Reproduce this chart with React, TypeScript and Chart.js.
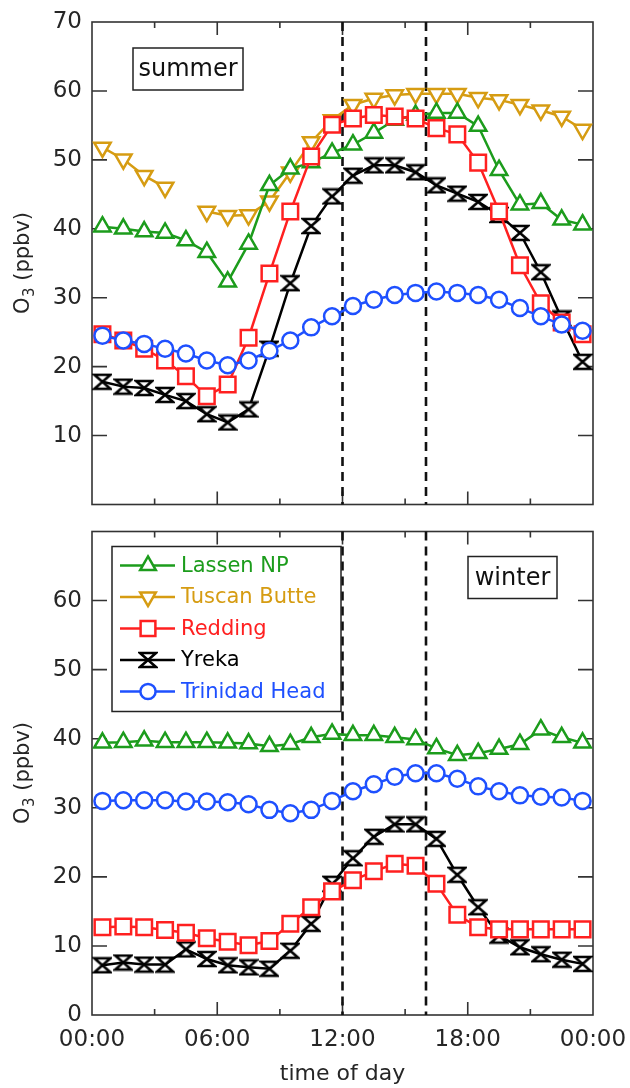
import React, { useEffect, useRef } from 'react';
import { Chart, registerables } from 'chart.js';

Chart.register(...registerables);

// ---------- DATA ----------
const hours = [0.5, 1.5, 2.5, 3.5, 4.5, 5.5, 6.5, 7.5, 8.5, 9.5, 10.5, 11.5, 12.5, 13.5, 14.5, 15.5, 16.5, 17.5, 18.5, 19.5, 20.5, 21.5, 22.5, 23.5];

const seriesNames = ['Lassen NP', 'Tuscan Butte', 'Redding', 'Yreka', 'Trinidad Head'];
const seriesColors = ['#1c9c1c', '#d69c12', '#ff2020', '#000000', '#1e50ff'];

// summer
const lassenSummer = [40.3, 40.0, 39.6, 39.4, 38.3, 36.6, 32.3, 37.8, 46.3, 48.7, 49.6, 51.0, 52.2, 53.9, 55.8, 56.5, 56.8, 56.8, 54.9, 48.5, 43.5, 43.7, 41.3, 40.6];
const tuscanSummer = [51.8, 50.1, 47.7, 46.0, null, 42.5, 41.9, 42.0, 44.0, 48.2, 52.6, 55.8, 58.0, 58.9, 59.4, 59.6, 59.6, 59.6, 59.0, 58.7, 58.0, 57.2, 56.3, 54.4];
const reddingSummer = [24.7, 23.8, 22.6, 20.9, 18.6, 15.7, 17.4, 24.2, 33.5, 42.5, 50.5, 55.1, 56.0, 56.5, 56.3, 56.0, 54.6, 53.7, 49.6, 42.5, 34.7, 29.2, 26.4, 24.7];
const yrekaSummer = [17.8, 17.1, 16.9, 15.9, 15.0, 13.1, 11.9, 13.8, 22.6, 32.1, 40.4, 44.7, 47.7, 49.2, 49.2, 48.2, 46.3, 45.1, 43.9, 42.0, 39.4, 33.7, 27.0, 20.7];
const trinidadSummer = [24.5, 23.8, 23.3, 22.6, 21.9, 20.9, 20.2, 20.9, 22.3, 23.8, 25.7, 27.3, 28.8, 29.7, 30.4, 30.7, 30.9, 30.7, 30.4, 29.7, 28.5, 27.3, 26.1, 25.2];

// winter
const lassenWinter = [39.4, 39.5, 39.7, 39.5, 39.5, 39.5, 39.4, 39.3, 38.9, 39.2, 40.2, 40.7, 40.5, 40.5, 40.2, 39.9, 38.6, 37.6, 37.9, 38.5, 39.2, 41.3, 40.2, 39.4];
const tuscanWinter: (number | null)[] = [];
const reddingWinter = [12.7, 12.8, 12.7, 12.3, 11.9, 11.1, 10.6, 10.1, 10.7, 13.2, 15.6, 17.9, 19.5, 20.8, 21.9, 21.6, 19.0, 14.5, 12.7, 12.4, 12.4, 12.4, 12.4, 12.4];
const yrekaWinter = [7.2, 7.6, 7.3, 7.3, 9.5, 8.1, 7.2, 6.9, 6.7, 9.3, 13.2, 19.0, 22.7, 25.8, 27.6, 27.6, 25.5, 20.3, 15.6, 11.5, 9.8, 8.8, 8.0, 7.4];
const trinidadWinter = [31.0, 31.1, 31.1, 31.1, 30.9, 30.9, 30.8, 30.5, 29.7, 29.2, 29.7, 31.0, 32.4, 33.4, 34.5, 35.0, 35.0, 34.2, 33.1, 32.4, 31.8, 31.6, 31.5, 31.0];

const xTickHours = [0, 6, 12, 18, 24];
const xTickLabels = ['00:00', '06:00', '12:00', '18:00', '00:00'];
const xMarkHours = [3, 6, 9, 12, 15, 18, 21];
const yMarkValues = [10, 20, 30, 40, 50, 60];
const dashedHours = [12, 16];

const FONT = '"DejaVu Sans", Verdana, sans-serif';
const TEXT = '#262626';

// ---------- markers ----------
function makeHourglass(color: string) {
  const c = document.createElement('canvas');
  c.width = 20;
  c.height = 18;
  const g = c.getContext('2d')!;
  g.lineWidth = 2.5;
  g.strokeStyle = color;
  g.fillStyle = '#ffffff';
  g.lineJoin = 'miter';
  g.beginPath();
  g.moveTo(2, 2);
  g.lineTo(18, 2);
  g.lineTo(2, 16);
  g.lineTo(18, 16);
  g.closePath();
  g.fill();
  g.stroke();
  return c;
}

const markerStyles = ['triangle', 'triangleDown', 'rect', 'hourglass', 'circle'];
const markerRadius = [9.5, 9.5, 11, 9, 8];

function drawMarker(ctx: CanvasRenderingContext2D, kind: string, x: number, y: number, r: number, color: string, hg: HTMLCanvasElement) {
  ctx.save();
  ctx.strokeStyle = color;
  ctx.fillStyle = '#fff';
  ctx.lineWidth = 2.5;
  ctx.setLineDash([]);
  ctx.beginPath();
  if (kind === 'triangle' || kind === 'triangleDown') {
    const s = kind === 'triangle' ? 1 : -1;
    ctx.moveTo(x, y - s * r);
    ctx.lineTo(x + r * Math.sin(Math.PI * 2 / 3), y + s * r / 2);
    ctx.lineTo(x - r * Math.sin(Math.PI * 2 / 3), y + s * r / 2);
    ctx.closePath();
  } else if (kind === 'rect') {
    const h = r * Math.SQRT1_2;
    ctx.rect(x - h, y - h, 2 * h, 2 * h);
  } else if (kind === 'circle') {
    ctx.arc(x, y, r, 0, Math.PI * 2);
  } else {
    ctx.drawImage(hg, x - hg.width / 2, y - hg.height / 2);
    ctx.restore();
    return;
  }
  ctx.fill();
  ctx.stroke();
  ctx.restore();
}

function makeDatasets(values: (number | null)[][], hgs: HTMLCanvasElement[]) {
  const orderOf = [3, 4, 2, 5, 1];
  return values.map((vals, i) => {
    const kind = markerStyles[i];
    const style: any = kind === 'triangleDown' ? 'triangle' : kind === 'hourglass' ? hgs[i] : kind;
    return {
      label: seriesNames[i],
      data: vals.map((v, j) => ({ x: hours[j], y: v })),
      borderColor: seriesColors[i],
      backgroundColor: '#ffffff',
      borderWidth: 2.5,
      pointStyle: style,
      pointRotation: kind === 'triangleDown' ? 180 : 0,
      pointRadius: markerRadius[i],
      pointBorderWidth: 2.5,
      pointBackgroundColor: '#ffffff',
      pointBorderColor: seriesColors[i],
      spanGaps: false,
      tension: 0,
      order: orderOf[i],
      _kind: kind,
    };
  });
}

// ---------- plugins ----------
const framePlugin = {
  id: 'frameTicks',
  beforeDatasetsDraw(chart: any) {
    const { ctx, chartArea: a, scales } = chart;
    const x = scales.x;
    const y = scales.y;
    ctx.save();
    ctx.strokeStyle = '#333';
    ctx.lineWidth = 1.6;
    ctx.strokeRect(a.left, a.top, a.right - a.left, a.bottom - a.top);
    ctx.beginPath();
    for (const h of xMarkHours) {
      const px = x.getPixelForValue(h);
      const len = h % 6 === 0 ? 13 : 6;
      ctx.moveTo(px, a.bottom);
      ctx.lineTo(px, a.bottom - len);
      ctx.moveTo(px, a.top);
      ctx.lineTo(px, a.top + len);
    }
    for (const v of yMarkValues) {
      const py = y.getPixelForValue(v);
      ctx.moveTo(a.left, py);
      ctx.lineTo(a.left + 15, py);
      ctx.moveTo(a.right, py);
      ctx.lineTo(a.right - 15, py);
    }
    ctx.stroke();
    ctx.strokeStyle = '#111';
    ctx.lineWidth = 2.6;
    ctx.setLineDash([9, 6]);
    ctx.beginPath();
    for (const h of dashedHours) {
      const px = x.getPixelForValue(h);
      ctx.moveTo(px, a.top);
      ctx.lineTo(px, a.bottom);
    }
    ctx.stroke();
    ctx.restore();
  },
  afterDraw(chart: any) {
    const { ctx, chartArea: a } = chart;
    const o = chart.options.plugins.frameTicks || {};
    // y title
    const cy = (a.top + a.bottom) / 2;
    ctx.save();
    ctx.translate(24, cy);
    ctx.rotate(-Math.PI / 2);
    const big = '21px ' + FONT;
    const small = '15px ' + FONT;
    ctx.font = big;
    const wO = ctx.measureText('O').width;
    const wRest = ctx.measureText(' (ppbv)').width;
    ctx.font = small;
    const w3 = ctx.measureText('3').width;
    const x0 = -(wO + w3 + wRest) / 2;
    ctx.fillStyle = TEXT;
    ctx.textBaseline = 'middle';
    ctx.textAlign = 'left';
    ctx.font = big;
    ctx.fillText('O', x0, 0);
    ctx.font = small;
    ctx.fillText('3', x0 + wO + 0.5, 6);
    ctx.font = big;
    ctx.fillText(' (ppbv)', x0 + wO + w3 + 0.5, 0);
    ctx.restore();

    // season label box
    if (o.season) {
      const s = o.season;
      ctx.save();
      ctx.fillStyle = '#fff';
      ctx.fillRect(a.left + s.dx, a.top + s.dy, s.w, s.h);
      ctx.strokeStyle = '#222';
      ctx.lineWidth = 1.5;
      ctx.strokeRect(a.left + s.dx, a.top + s.dy, s.w, s.h);
      ctx.fillStyle = '#111';
      ctx.font = '24px ' + FONT;
      ctx.textAlign = 'center';
      ctx.textBaseline = 'middle';
      ctx.fillText(s.text, a.left + s.dx + s.w / 2, a.top + s.dy + s.h / 2 + 1);
      ctx.restore();
    }

    // x title
    if (o.xTitle) {
      ctx.save();
      ctx.fillStyle = TEXT;
      ctx.font = '22px ' + FONT;
      ctx.textAlign = 'center';
      ctx.textBaseline = 'middle';
      ctx.fillText(o.xTitle, (a.left + a.right) / 2, a.bottom + 59);
      ctx.restore();
    }

    // legend
    if (o.legend) {
      const lx = a.left + 20;
      const ly = a.top + 15;
      const w = 229;
      const h = 165;
      ctx.save();
      ctx.fillStyle = '#fff';
      ctx.fillRect(lx, ly, w, h);
      ctx.strokeStyle = '#222';
      ctx.lineWidth = 1.5;
      ctx.strokeRect(lx, ly, w, h);
      const ds = chart.data.datasets;
      ds.forEach((d: any, i: number) => {
        const ry = ly + 19 + i * 31.5;
        ctx.strokeStyle = d.borderColor;
        ctx.lineWidth = 2.5;
        ctx.beginPath();
        ctx.moveTo(lx + 8, ry);
        ctx.lineTo(lx + 63, ry);
        ctx.stroke();
        drawMarker(ctx, d._kind, lx + 36, ry, d.pointRadius * 0.95, d.borderColor, o.hourglass);
        ctx.fillStyle = d.borderColor;
        ctx.font = '21px ' + FONT;
        ctx.textAlign = 'left';
        ctx.textBaseline = 'middle';
        ctx.fillText(d.label, lx + 69, ry + 1);
      });
      ctx.restore();
    }
  },
};

function baseOptions(showX: boolean, hideY: number, padding: any, extra: any) {
  return {
    responsive: false,
    animation: false,
    layout: { padding },
    plugins: {
      legend: { display: false },
      tooltip: { enabled: false },
      frameTicks: extra,
    },
    scales: {
      x: {
        type: 'linear',
        min: 0,
        max: 24,
        display: showX,
        grid: { display: false, drawTicks: false },
        border: { display: false },
        afterBuildTicks: (s: any) => {
          s.ticks = xTickHours.map((v) => ({ value: v }));
        },
        afterFit: (s: any) => {
          s.height = showX ? 73 : 0;
          s.paddingLeft = 0;
          s.paddingRight = 0;
        },
        ticks: {
          autoSkip: false,
          maxRotation: 0,
          padding: 11,
          color: TEXT,
          font: { family: FONT, size: 23 },
          callback: (v: number) => xTickLabels[xTickHours.indexOf(v)],
        },
      },
      y: {
        type: 'linear',
        min: 0,
        max: 70,
        grid: { display: false, drawTicks: false },
        border: { display: false },
        afterBuildTicks: (s: any) => {
          s.ticks = [0, 10, 20, 30, 40, 50, 60, 70].filter((v) => v !== hideY).map((v) => ({ value: v }));
        },
        afterFit: (s: any) => {
          s.width = 92;
          s.paddingTop = 0;
          s.paddingBottom = 0;
        },
        ticks: {
          padding: 10,
          color: TEXT,
          font: { family: FONT, size: 23 },
          callback: (v: number) => String(v),
        },
      },
    },
  };
}

export default function App() {
  const topRef = useRef<HTMLCanvasElement>(null);
  const botRef = useRef<HTMLCanvasElement>(null);

  useEffect(() => {
    const hgs = seriesColors.map((c) => makeHourglass(c));
    const top = new Chart(topRef.current!, {
      type: 'line',
      data: {
        datasets: makeDatasets([lassenSummer, tuscanSummer, reddingSummer, yrekaSummer, trinidadSummer], hgs) as any,
      },
      options: baseOptions(false, 0, { top: 22, right: 37, bottom: 4, left: 0 }, {
        season: { text: 'summer', dx: 41, dy: 26, w: 110, h: 42 },
      }) as any,
      plugins: [framePlugin],
    });
    const bot = new Chart(botRef.current!, {
      type: 'line',
      data: {
        datasets: makeDatasets([lassenWinter, tuscanWinter, reddingWinter, yrekaWinter, trinidadWinter], hgs) as any,
      },
      options: baseOptions(true, 70, { top: 5, right: 37, bottom: 0, left: 0 }, {
        season: { text: 'winter', dx: 376, dy: 25, w: 89, h: 42 },
        xTitle: 'time of day',
        legend: true,
        hourglass: hgs[3],
      }) as any,
      plugins: [framePlugin],
    });
    return () => {
      top.destroy();
      bot.destroy();
    };
  }, []);

  return (
    <div style={{ position: 'absolute', left: 0, top: 0, width: 630, height: 1088, background: '#fff' }}>
      <canvas ref={topRef} width={630} height={518} style={{ position: 'absolute', left: 0, top: 0, width: 630, height: 518 }} />
      <canvas ref={botRef} width={630} height={570} style={{ position: 'absolute', left: 0, top: 518, width: 630, height: 570 }} />
    </div>
  );
}
